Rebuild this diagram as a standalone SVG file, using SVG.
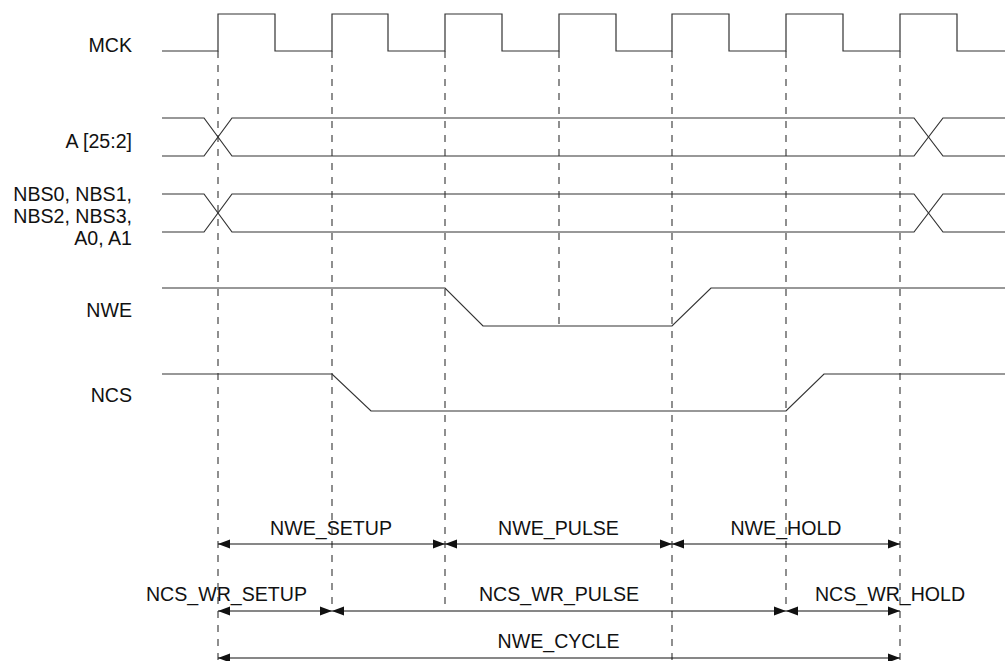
<svg xmlns="http://www.w3.org/2000/svg" width="1005" height="661" viewBox="0 0 1005 661">
<defs>
<marker id="ah" markerUnits="userSpaceOnUse" markerWidth="14" markerHeight="12" refX="12" refY="6" orient="auto-start-reverse">
<path d="M0,1.5 L12,6 L0,10.5 Z" fill="#111"/>
</marker>
</defs>
<style>
.sig{fill:none;stroke:#333;stroke-width:1.2}
.dash{fill:none;stroke:#333;stroke-width:1.1;stroke-dasharray:7,7}
.arr{fill:none;stroke:#111;stroke-width:1.2;marker-start:url(#ah);marker-end:url(#ah)}
.lbl{font-family:"Liberation Sans",Arial,sans-serif;font-size:19.6px;fill:#111}
.end{text-anchor:end}
.mid{text-anchor:middle}
</style>
<rect width="1005" height="661" fill="#fff"/>
<g id="MCK">
<text class="lbl end" x="132" y="52">MCK</text>
<path class="sig" d="M162,51 H218 V14 H275 V51 H332 V14 H388 V51 H445 V14 H502 V51 H559 V14 H616 V51 H672 V14 H729 V51 H786 V14 H843 V51 H900 V14 H957 V51 H1005"/>
</g>
<g id="A25_2">
<text class="lbl end" x="132" y="148">A [25:2]</text>
<path class="sig" d="M162,118 H204 L232,156 H914 L943,118 H1005"/>
<path class="sig" d="M162,156 H204 L232,118 H914 L943,156 H1005"/>
</g>
<g id="NBS">
<text class="lbl end" x="132" y="201">NBS0, NBS1,</text>
<text class="lbl end" x="132" y="223">NBS2, NBS3,</text>
<text class="lbl end" x="132" y="245">A0, A1</text>
<path class="sig" d="M162,194 H204 L232,232 H914 L943,194 H1005"/>
<path class="sig" d="M162,232 H204 L232,194 H914 L943,232 H1005"/>
</g>
<g id="NWE">
<text class="lbl end" x="132" y="317">NWE</text>
<path class="sig" d="M162,288 H445 L483,326 H672 L711,288 H1005"/>
</g>
<g id="NCS">
<text class="lbl end" x="132" y="402">NCS</text>
<path class="sig" d="M162,374 H332 L371,411 H786 L824,374 H1005"/>
</g>
<g id="labels">
<text class="lbl mid" x="331" y="535">NWE_SETUP</text>
<text class="lbl mid" x="558.5" y="535">NWE_PULSE</text>
<text class="lbl mid" x="786" y="535">NWE_HOLD</text>
<text class="lbl mid" x="226.5" y="601">NCS_WR_SETUP</text>
<text class="lbl mid" x="559" y="601">NCS_WR_PULSE</text>
<text class="lbl mid" x="890" y="601">NCS_WR_HOLD</text>
<text class="lbl mid" x="558.5" y="648">NWE_CYCLE</text>
</g>
<g id="connectors">
<line class="dash" x1="218" y1="51" x2="218" y2="661"/>
<line class="dash" x1="332" y1="51" x2="332" y2="611"/>
<line class="dash" x1="445" y1="51" x2="445" y2="608"/>
<line class="dash" x1="559" y1="51" x2="559" y2="326"/>
<line class="dash" x1="672" y1="51" x2="672" y2="661"/>
<line class="dash" x1="786" y1="51" x2="786" y2="611"/>
<line class="dash" x1="900" y1="51" x2="900" y2="661"/>
<line class="arr" x1="218" y1="544" x2="445" y2="544"/>
<line class="arr" x1="445" y1="544" x2="672" y2="544"/>
<line class="arr" x1="672" y1="544" x2="900" y2="544"/>
<line class="arr" x1="218" y1="611" x2="332" y2="611"/>
<line class="arr" x1="332" y1="611" x2="786" y2="611"/>
<line class="arr" x1="786" y1="611" x2="900" y2="611"/>
<line class="arr" x1="218" y1="658" x2="900" y2="658"/>
</g>
</svg>
